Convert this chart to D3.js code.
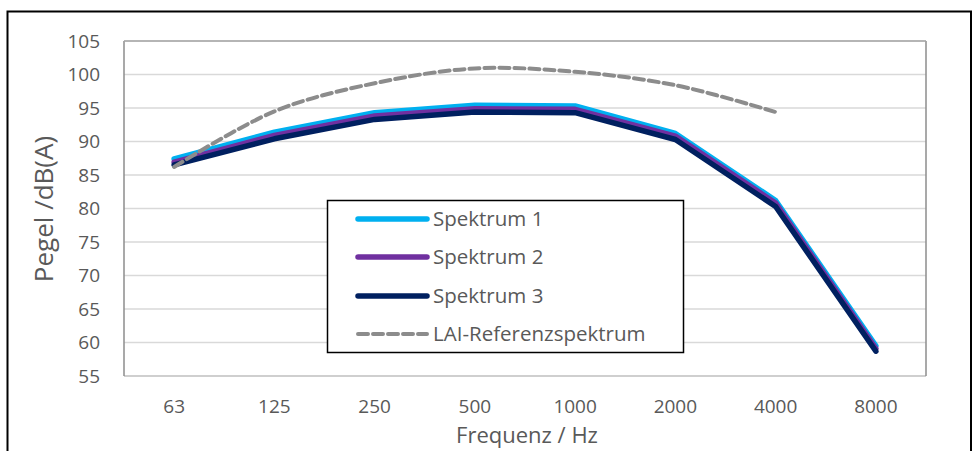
<!DOCTYPE html>
<html><head><meta charset="utf-8">
<script src="https://cdn.jsdelivr.net/npm/d3@7"></script>
<style>body{margin:0;background:#fff}text{font-family:"Open Sans",sans-serif;fill:#595959}</style>
</head><body><svg id="c" width="974" height="451"></svg>
<script>
const categories = ["63","125","250","500","1000","2000","4000","8000"];
const spektrum1 = [87.4, 91.4, 94.3, 95.4, 95.3, 91.2, 81.2, 59.5];
const spektrum2 = [86.9, 90.9, 93.8, 94.9, 94.8, 90.8, 80.8, 59.1];
const spektrum3 = [86.5, 90.4, 93.3, 94.4, 94.3, 90.3, 80.3, 58.7];
const laiRef = [86.2, 94.5, 98.7, 100.9, 100.4, 98.4, 94.4, null];
const yTicks = [55,60,65,70,75,80,85,90,95,100,105];
const seriesNames = ["Spektrum 1","Spektrum 2","Spektrum 3","LAI-Referenzspektrum"];
const seriesColors = ["#00b0f0","#7030a0","#002060","#8c8c8c"];

const svg = d3.select("#c");
svg.append("rect").attr("x",7.5).attr("y",11.5).attr("width",963.5).attr("height",460)
  .attr("fill","none").attr("stroke","#000").attr("stroke-width",2);

const L=124, R=926, T=41, B=376;
const x = d3.scaleBand().domain(categories).range([L,R]);
const y = d3.scaleLinear().domain([55,105]).range([B,T]);

// gridlines
svg.append("g").selectAll("line").data(yTicks.filter(d=>d>55)).join("line")
  .attr("x1",L).attr("x2",R).attr("y1",d=>y(d)).attr("y2",d=>y(d))
  .attr("stroke","#d9d9d9").attr("stroke-width",1.5);
// plot border
svg.append("line").attr("x1",L).attr("x2",R).attr("y1",B).attr("y2",B).attr("stroke","#bfbfbf").attr("stroke-width",1.5);
svg.append("line").attr("x1",L).attr("x2",L).attr("y1",T).attr("y2",B).attr("stroke","#8c8c8c").attr("stroke-width",1.5);
svg.append("line").attr("x1",R).attr("x2",R).attr("y1",T).attr("y2",B).attr("stroke","#8c8c8c").attr("stroke-width",1.5);
svg.append("line").attr("x1",L).attr("x2",R).attr("y1",T).attr("y2",T).attr("stroke","#a6a6a6").attr("stroke-width",1.5);

// y axis labels
const ya = svg.append("g").attr("transform",`translate(${L},0)`)
  .call(d3.axisLeft(y).tickValues(yTicks).tickSize(0).tickPadding(24));
ya.select(".domain").remove();
ya.selectAll("text").style("font-size","19px").style("fill","#595959").style("font-family","'Open Sans',sans-serif");
// x axis labels
const xa = svg.append("g").attr("transform",`translate(0,${B})`)
  .call(d3.axisBottom(x).tickSize(0).tickPadding(24));
xa.select(".domain").remove();
xa.selectAll("text").style("font-size","19px").style("fill","#595959").style("font-family","'Open Sans',sans-serif");

svg.append("text").attr("x",527).attr("y",443).attr("text-anchor","middle").style("font-size","22px").text("Frequenz / Hz");
svg.append("text").attr("transform","translate(53,209) rotate(-90)").attr("text-anchor","middle").style("font-size","26px").text("Pegel /dB(A)");

const cx = (d,i)=>x(categories[i])+x.bandwidth()/2;
const lineStraight = d3.line().defined(d=>d!=null).x((d,i)=>cx(d,i)).y(d=>y(d));
const lineSmooth = d3.line().defined(d=>d!=null).x((d,i)=>cx(d,i)).y(d=>y(d)).curve(d3.curveCatmullRom.alpha(0.5));

[spektrum1,spektrum2,spektrum3].forEach((s,k)=>{
  svg.append("path").attr("d",lineStraight(s)).attr("fill","none")
    .attr("stroke",seriesColors[k]).attr("stroke-width",5.5).attr("stroke-linejoin","round").attr("stroke-linecap","round");
});
svg.append("path").attr("d",lineSmooth(laiRef)).attr("fill","none")
  .attr("stroke",seriesColors[3]).attr("stroke-width",4).attr("stroke-dasharray","10,5").attr("stroke-linecap","round");

// legend
const lg = svg.append("g");
lg.append("rect").attr("x",327.5).attr("y",200.5).attr("width",356).attr("height",152)
  .attr("fill","#fff").attr("stroke","#000").attr("stroke-width",1.5);
const rows=[219,257,296,334];
seriesNames.forEach((n,i)=>{
  lg.append("line").attr("x1",358).attr("x2",427).attr("y1",rows[i]).attr("y2",rows[i])
    .attr("stroke",seriesColors[i]).attr("stroke-width",i<3?5.5:4).attr("stroke-linecap","round")
    .attr("stroke-dasharray",i<3?null:"10,5");
  lg.append("text").attr("x",433).attr("y",rows[i]).attr("dy","0.35em").style("font-size","20.5px").text(n);
});
</script></body></html>
